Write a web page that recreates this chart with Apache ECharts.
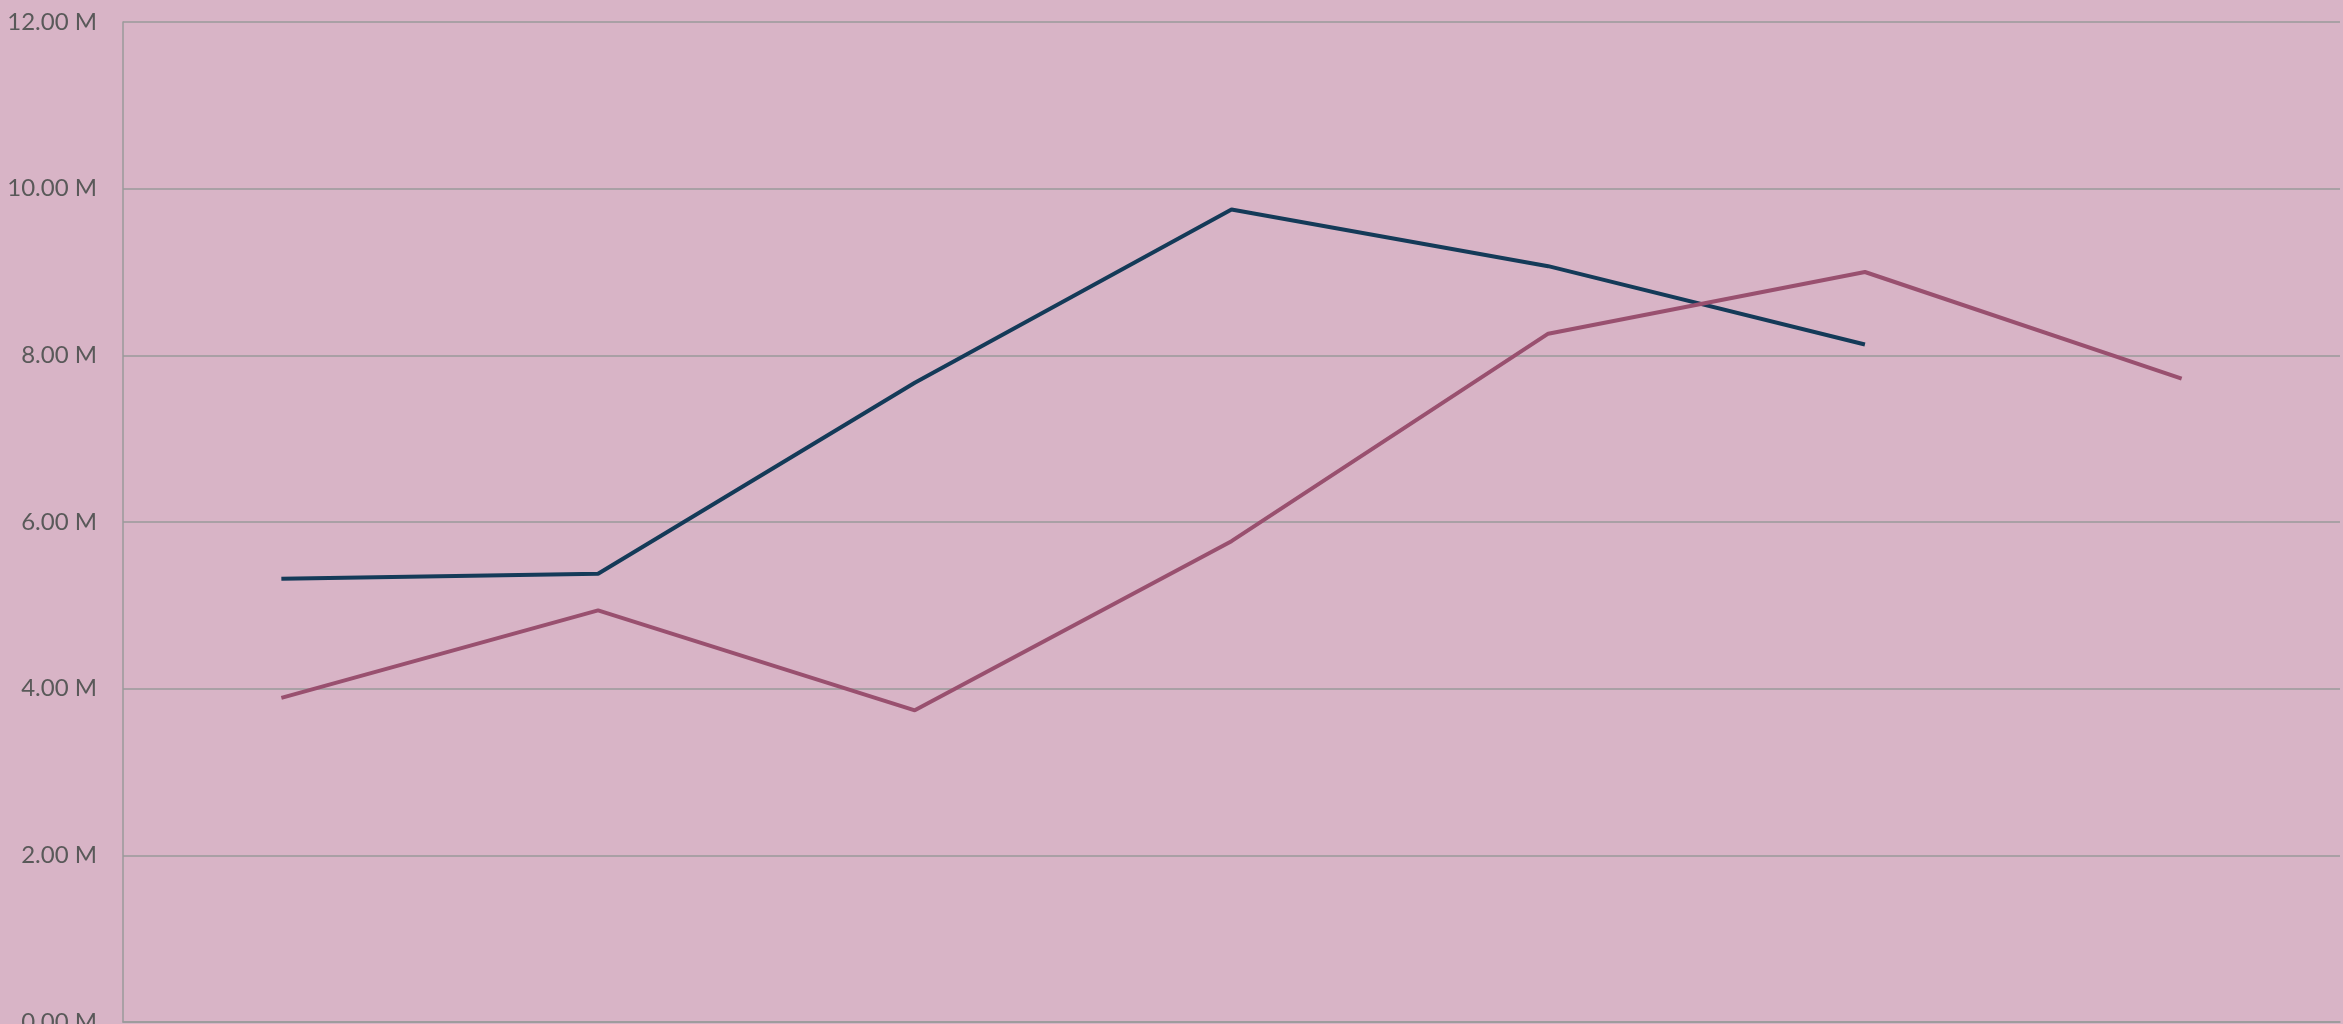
<!DOCTYPE html>
<html>
<head>
<meta charset="utf-8">
<script src="https://cdn.jsdelivr.net/npm/echarts@6/dist/echarts.min.js"></script>
<style>
  html, body { margin: 0; padding: 0; background: #d8b4c6; }
  #chart { width: 2343px; height: 1024px; }
</style>
</head>
<body>
<div id="chart"></div>
<script>
// categories (x labels are not visible in the picture)
const categories = ['P1', 'P2', 'P3', 'P4', 'P5', 'P6', 'P7'];
// values in millions
const navySeries = [5.32, 5.38, 7.67, 9.75, 9.07, 8.13, null];
const mauveSeries = [3.89, 4.94, 3.74, 5.77, 8.26, 9.00, 7.72];
const yTicks = { min: 0, max: 12, interval: 2 };

const chart = echarts.init(document.getElementById('chart'));

const option = {
  backgroundColor: '#d8b4c6',
  animation: false,
  grid: { left: 123, right: 3, top: 22, bottom: 2, outerBoundsMode: 'none', containLabel: false },
  xAxis: {
    type: 'category',
    data: categories,
    boundaryGap: true,
    axisLine: { show: true, lineStyle: { color: '#9a9a9a', width: 1.5 } },
    axisTick: { show: false },
    axisLabel: { show: false }
  },
  yAxis: {
    type: 'value',
    min: yTicks.min,
    max: yTicks.max,
    interval: yTicks.interval,
    axisLine: { show: true, lineStyle: { color: '#9a9a9a', width: 1.5 } },
    axisTick: { show: false },
    splitLine: { lineStyle: { color: '#9a9a9a', width: 1.5 } },
    axisLabel: {
      color: '#595959',
      fontFamily: 'Lato',
      fontSize: 24,
      margin: 26,
      formatter: v => v.toFixed(2) + ' M'
    }
  },
  series: [
    {
      type: 'line',
      data: navySeries,
      symbol: 'none',
      lineStyle: { color: '#143a58', width: 4 },
      itemStyle: { color: '#143a58' }
    },
    {
      type: 'line',
      data: mauveSeries,
      symbol: 'none',
      lineStyle: { color: '#99506f', width: 4 },
      itemStyle: { color: '#99506f' }
    }
  ]
};

chart.setOption(option);
</script>
</body>
</html>
